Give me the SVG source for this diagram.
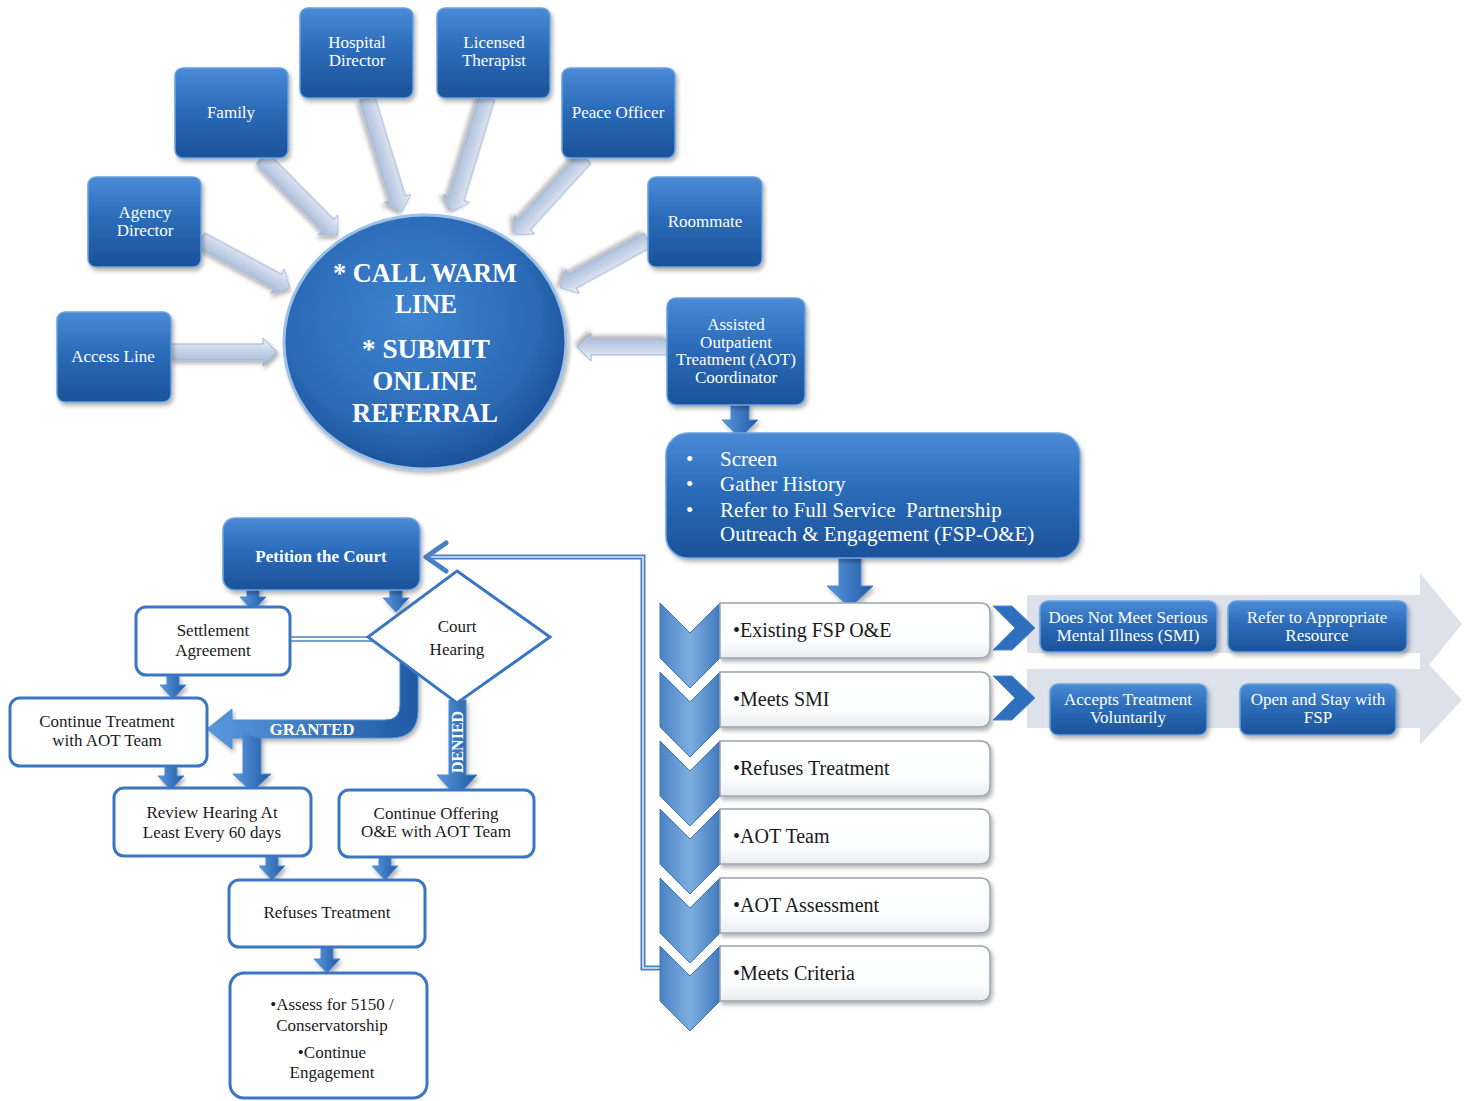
<svg xmlns="http://www.w3.org/2000/svg" width="1465" height="1101" viewBox="0 0 1465 1101">
<style>
  .bt { font-family: "Liberation Serif", "Times New Roman", serif; fill: #ffffff; text-anchor: middle; font-size: 17px; }
  .wt { font-family: "Liberation Serif", "Times New Roman", serif; fill: #1a1a1a; text-anchor: middle; font-size: 17px; }
  .lt { font-family: "Liberation Serif", "Times New Roman", serif; fill: #1a1a1a; font-size: 20px; }
  .ct { font-family: "Liberation Serif", "Times New Roman", serif; fill: #ffffff; text-anchor: middle; font-size: 27px; font-weight: bold; }
  .st { font-family: "Liberation Serif", "Times New Roman", serif; fill: #ffffff; font-size: 21px; }
  .bb { fill: url(#gBlue); stroke: #6aa3df; stroke-width: 1.5; filter: url(#sh); }
  .wb { fill: #ffffff; stroke: #3c76c2; stroke-width: 3; }
  .lb { fill: url(#gList); stroke: #9aa4b0; stroke-width: 1.5; filter: url(#sh); }
  .la { fill: url(#gLight); stroke: #9db3d2; stroke-width: 1; filter: url(#sh); }
  .da { fill: url(#gArrow); stroke: #4f8bd0; stroke-width: 1; filter: url(#sh); }
  .band { fill: #d9dfe8; opacity: 0.9; }
</style>
<defs>
  <linearGradient id="gBlue" x1="0" y1="0" x2="0" y2="1">
    <stop offset="0" stop-color="#4a8ad6"/>
    <stop offset="0.45" stop-color="#2b6cb9"/>
    <stop offset="1" stop-color="#1c5299"/>
  </linearGradient>
  <radialGradient id="gCircle" cx="0.45" cy="0.4" r="0.6">
    <stop offset="0" stop-color="#3f84d0"/>
    <stop offset="0.75" stop-color="#2a69b5"/>
    <stop offset="1" stop-color="#1c5299"/>
  </radialGradient>
  <linearGradient id="gLight" x1="0" y1="0" x2="0" y2="1">
    <stop offset="0" stop-color="#eef2f8"/>
    <stop offset="0.5" stop-color="#c3d1e6"/>
    <stop offset="1" stop-color="#9fb4d3"/>
  </linearGradient>
  <linearGradient id="gArrow" x1="0" y1="0" x2="1" y2="0">
    <stop offset="0" stop-color="#5a98dc"/>
    <stop offset="1" stop-color="#1f5aa6"/>
  </linearGradient>
  <linearGradient id="gList" x1="0" y1="0" x2="0" y2="1">
    <stop offset="0" stop-color="#ffffff"/>
    <stop offset="0.7" stop-color="#fbfcfd"/>
    <stop offset="1" stop-color="#e9ecf0"/>
  </linearGradient>
  <linearGradient id="gChev" x1="0" y1="0" x2="1" y2="0">
    <stop offset="0" stop-color="#4a82c4"/>
    <stop offset="0.5" stop-color="#7eaee0"/>
    <stop offset="1" stop-color="#4079bd"/>
  </linearGradient>
  <filter id="sh" x="-20%" y="-20%" width="140%" height="140%">
    <feDropShadow dx="2" dy="3" stdDeviation="2" flood-color="#000" flood-opacity="0.3"/>
  </filter>
</defs>

<g id="connectors">
  <!-- light arrows into circle -->
  <path class="la" d="M0,-8 H92 V-14 L106,0 L92,14 V8 H0 Z" transform="translate(171,352)"/>
  <path class="la" d="M0,-8 H87 V-14 L101,0 L87,14 V8 H0 Z" transform="translate(201,240) rotate(28.3)"/>
  <path class="la" d="M0,-8 H94 V-14 L108,0 L94,14 V8 H0 Z" transform="translate(262,158) rotate(45.4)"/>
  <path class="la" d="M0,-8 H105 V-14 L119,0 L105,14 V8 H0 Z" transform="translate(367,98) rotate(73)"/>
  <path class="la" d="M0,-8 H105 V-14 L119,0 L105,14 V8 H0 Z" transform="translate(487,98) rotate(107)"/>
  <path class="la" d="M0,-8 H90 V-14 L104,0 L90,14 V8 H0 Z" transform="translate(585,158) rotate(132.3)"/>
  <path class="la" d="M0,-8 H86 V-14 L100,0 L86,14 V8 H0 Z" transform="translate(648,240) rotate(151.4)"/>
  <path class="la" d="M0,-8 H76 V-14 L90,0 L76,14 V8 H0 Z" transform="translate(667,347) rotate(180)"/>

  <!-- big down arrows -->
  <path class="da" d="M731,404 V420 H722 L740,438 L758,420 H749 V404 Z"/>
  <path class="da" d="M839,556 V586 H827 L850,608 L873,586 H861 V556 Z"/>

  <!-- right light bands -->
  <path class="band" d="M1027,595 H1420 V573 L1462,624 L1420,676 V653 H1027 Z"/>
  <path class="band" d="M1027,669 H1420 V655 L1462,700 L1420,745 V728 H1027 Z"/>
  <path fill="#2f6fbd" stroke="#4f8bd0" d="M993,606 H1012 L1035,628 L1012,650 H993 L1015,628 Z"/>
  <path fill="#2f6fbd" stroke="#4f8bd0" d="M993,676 H1012 L1035,698 L1012,720 H993 L1015,698 Z"/>

  <!-- feedback connector -->
  <polyline points="662,968 643,968 643,557 428,557" fill="none" stroke="#4a7fc4" stroke-width="5"/>
  <polyline points="662,968 643,968 643,557 428,557" fill="none" stroke="#dfe9f6" stroke-width="1.6"/>
  <polyline points="446,543 426,557 446,571" fill="none" stroke="#4a7fc4" stroke-width="5" stroke-linecap="round" stroke-linejoin="round"/>

  <!-- settlement to court hearing -->
  <line x1="290" y1="637" x2="372" y2="637" stroke="#4a7fc4" stroke-width="1.5"/>
  <line x1="290" y1="641" x2="372" y2="641" stroke="#4a7fc4" stroke-width="1.5"/>

  <!-- small blue down arrows -->
  <path class="da" d="M247,588 V597 H240 L253,611 L266,597 H259 V588 Z"/>
  <path class="da" d="M390,588 V598 H383 L396,612 L409,598 H402 V588 Z"/>
  <path class="da" d="M167,675 V685 H160 L173,699 L186,685 H179 V675 Z"/>
  <path class="da" d="M165,766 V776 H158 L171,790 L184,776 H177 V766 Z"/>
  <path class="da" d="M266,854 V866 H259 L272,880 L285,866 H278 V854 Z"/>
  <path class="da" d="M379,856 V866 H372 L385,880 L398,866 H391 V856 Z"/>
  <path class="da" d="M321,946 V959 H314 L327,973 L340,959 H333 V946 Z"/>

  <!-- GRANTED arrow -->
  <path class="da" d="M400,655 V705 Q400,720 385,720 H232 V709 L207,729 L232,749 V738 H390 Q418,738 418,710 V655 Z"/>
  <path class="da" d="M243,733 V774 H233 L252,792 L271,774 H261 V738 Z"/>
  <text class="bt" x="312" y="735" style="font-weight:bold">GRANTED</text>

  <!-- DENIED arrow -->
  <path class="da" d="M449,700 V775 H437 L457,797 L477,775 H466 V700 Z"/>
  <text class="bt" transform="translate(457,742) rotate(-90)" x="0" y="6" style="font-weight:bold;font-size:16px">DENIED</text>
</g>

<g id="node-family"><rect class="bb" x="175" y="68" width="113" height="90" rx="8"/><text class="bt" x="231" y="118">Family</text></g>
<g id="node-hospital"><rect class="bb" x="300" y="8" width="113" height="90" rx="8"/><text class="bt" x="357" y="48">Hospital</text><text class="bt" x="357" y="66">Director</text></g>
<g id="node-therapist"><rect class="bb" x="437" y="8" width="113" height="90" rx="8"/><text class="bt" x="494" y="48">Licensed</text><text class="bt" x="494" y="66">Therapist</text></g>
<g id="node-peace"><rect class="bb" x="562" y="68" width="113" height="90" rx="8"/><text class="bt" x="618" y="118">Peace Officer</text></g>
<g id="node-agency"><rect class="bb" x="88" y="177" width="113" height="90" rx="8"/><text class="bt" x="145" y="218">Agency</text><text class="bt" x="145" y="236">Director</text></g>
<g id="node-roommate"><rect class="bb" x="648" y="177" width="114" height="90" rx="8"/><text class="bt" x="705" y="227">Roommate</text></g>
<g id="node-access"><rect class="bb" x="57" y="312" width="114" height="90" rx="8"/><text class="bt" x="113" y="362">Access Line</text></g>
<g id="node-aot"><rect class="bb" x="667" y="298" width="138" height="107" rx="9"/>
  <text class="bt" x="736" y="330">Assisted</text><text class="bt" x="736" y="348">Outpatient</text><text class="bt" x="736" y="365">Treatment (AOT)</text><text class="bt" x="736" y="383">Coordinator</text></g>

<g id="node-center">
  <ellipse cx="425" cy="342" rx="141" ry="127" fill="url(#gCircle)" stroke="#9cc0e8" stroke-width="3" filter="url(#sh)"/>
  <text class="ct" x="425" y="282" textLength="184" lengthAdjust="spacingAndGlyphs">* CALL WARM</text>
  <text class="ct" x="426" y="313" textLength="62" lengthAdjust="spacingAndGlyphs">LINE</text>
  <text class="ct" x="426" y="358" textLength="128" lengthAdjust="spacingAndGlyphs">* SUBMIT</text>
  <text class="ct" x="425" y="390" textLength="105" lengthAdjust="spacingAndGlyphs">ONLINE</text>
  <text class="ct" x="425" y="422" textLength="146" lengthAdjust="spacingAndGlyphs">REFERRAL</text>
</g>

<g id="node-screen"><rect class="bb" x="666" y="433" width="414" height="125" rx="22"/>
  <text class="st" x="686" y="466">•</text><text class="st" x="720" y="466">Screen</text>
  <text class="st" x="686" y="491">•</text><text class="st" x="720" y="491">Gather History</text>
  <text class="st" x="686" y="517">•</text><text class="st" x="720" y="517">Refer to Full Service&#160; Partnership</text>
  <text class="st" x="720" y="541">Outreach &amp; Engagement (FSP-O&amp;E)</text>
</g>

<g id="node-list">
  <path fill="url(#gChev)" stroke="#3f74b6" stroke-width="1" d="M660,603 L690,633 L720,603 V658 L690,688 L660,658 Z"/>
  <path fill="url(#gChev)" stroke="#3f74b6" stroke-width="1" d="M660,672 L690,702 L720,672 V727 L690,757 L660,727 Z"/>
  <path fill="url(#gChev)" stroke="#3f74b6" stroke-width="1" d="M660,741 L690,771 L720,741 V796 L690,826 L660,796 Z"/>
  <path fill="url(#gChev)" stroke="#3f74b6" stroke-width="1" d="M660,809 L690,839 L720,809 V864 L690,894 L660,864 Z"/>
  <path fill="url(#gChev)" stroke="#3f74b6" stroke-width="1" d="M660,878 L690,908 L720,878 V933 L690,963 L660,933 Z"/>
  <path fill="url(#gChev)" stroke="#3f74b6" stroke-width="1" d="M660,946 L690,976 L720,946 V1001 L690,1031 L660,1001 Z"/>
  <path class="lb" d="M720,603 H980 Q990,603 990,613 V648 Q990,658 980,658 H720 Z"/>
  <path class="lb" d="M720,672 H980 Q990,672 990,682 V717 Q990,727 980,727 H720 Z"/>
  <path class="lb" d="M720,741 H980 Q990,741 990,751 V786 Q990,796 980,796 H720 Z"/>
  <path class="lb" d="M720,809 H980 Q990,809 990,819 V854 Q990,864 980,864 H720 Z"/>
  <path class="lb" d="M720,878 H980 Q990,878 990,888 V923 Q990,933 980,933 H720 Z"/>
  <path class="lb" d="M720,946 H980 Q990,946 990,956 V991 Q990,1001 980,1001 H720 Z"/>
  <text class="lt" x="733" y="637">•Existing FSP O&amp;E</text>
  <text class="lt" x="733" y="706">•Meets SMI</text>
  <text class="lt" x="733" y="775">•Refuses Treatment</text>
  <text class="lt" x="733" y="843">•AOT Team</text>
  <text class="lt" x="733" y="912">•AOT Assessment</text>
  <text class="lt" x="733" y="980">•Meets Criteria</text>
</g>

<g id="node-dnm"><rect class="bb" x="1040" y="601" width="177" height="51" rx="8"/><text class="bt" x="1128" y="623">Does Not Meet Serious</text><text class="bt" x="1128" y="641">Mental Illness (SMI)</text></g>
<g id="node-refer"><rect class="bb" x="1228" y="601" width="179" height="51" rx="8"/><text class="bt" x="1317" y="623">Refer to Appropriate</text><text class="bt" x="1317" y="641">Resource</text></g>
<g id="node-accepts"><rect class="bb" x="1050" y="684" width="157" height="51" rx="8"/><text class="bt" x="1128" y="705">Accepts Treatment</text><text class="bt" x="1128" y="723">Voluntarily</text></g>
<g id="node-open"><rect class="bb" x="1240" y="684" width="156" height="51" rx="8"/><text class="bt" x="1318" y="705">Open and Stay with</text><text class="bt" x="1318" y="723">FSP</text></g>

<g id="node-petition"><rect class="bb" x="223" y="518" width="197" height="72" rx="12"/><text class="bt" x="321" y="562" style="font-weight:bold">Petition the Court</text></g>
<g id="node-settlement"><rect class="wb" x="136" y="607" width="154" height="68" rx="10"/><text class="wt" x="213" y="636">Settlement</text><text class="wt" x="213" y="656">Agreement</text></g>
<g id="node-court"><polygon class="wb" points="457,571 550,637 457,703 368,637"/><text class="wt" x="457" y="632">Court</text><text class="wt" x="457" y="655">Hearing</text></g>
<g id="node-continue-treatment"><rect class="wb" x="10" y="698" width="197" height="68" rx="10"/><text class="wt" x="107" y="727">Continue Treatment</text><text class="wt" x="107" y="746">with AOT Team</text></g>
<g id="node-review"><rect class="wb" x="114" y="788" width="197" height="68" rx="10"/><text class="wt" x="212" y="818">Review Hearing At</text><text class="wt" x="212" y="838">Least Every 60 days</text></g>
<g id="node-continue-offering"><rect class="wb" x="339" y="790" width="195" height="67" rx="10"/><text class="wt" x="436" y="819">Continue Offering</text><text class="wt" x="436" y="837">O&amp;E with AOT Team</text></g>
<g id="node-refuses"><rect class="wb" x="229" y="880" width="196" height="67" rx="10"/><text class="wt" x="327" y="918">Refuses Treatment</text></g>
<g id="node-assess"><rect class="wb" x="230" y="973" width="197" height="125" rx="14"/>
  <text class="wt" x="332" y="1010">•Assess for 5150 /</text><text class="wt" x="332" y="1031">Conservatorship</text>
  <text class="wt" x="332" y="1058">•Continue</text><text class="wt" x="332" y="1078">Engagement</text></g>
</svg>
